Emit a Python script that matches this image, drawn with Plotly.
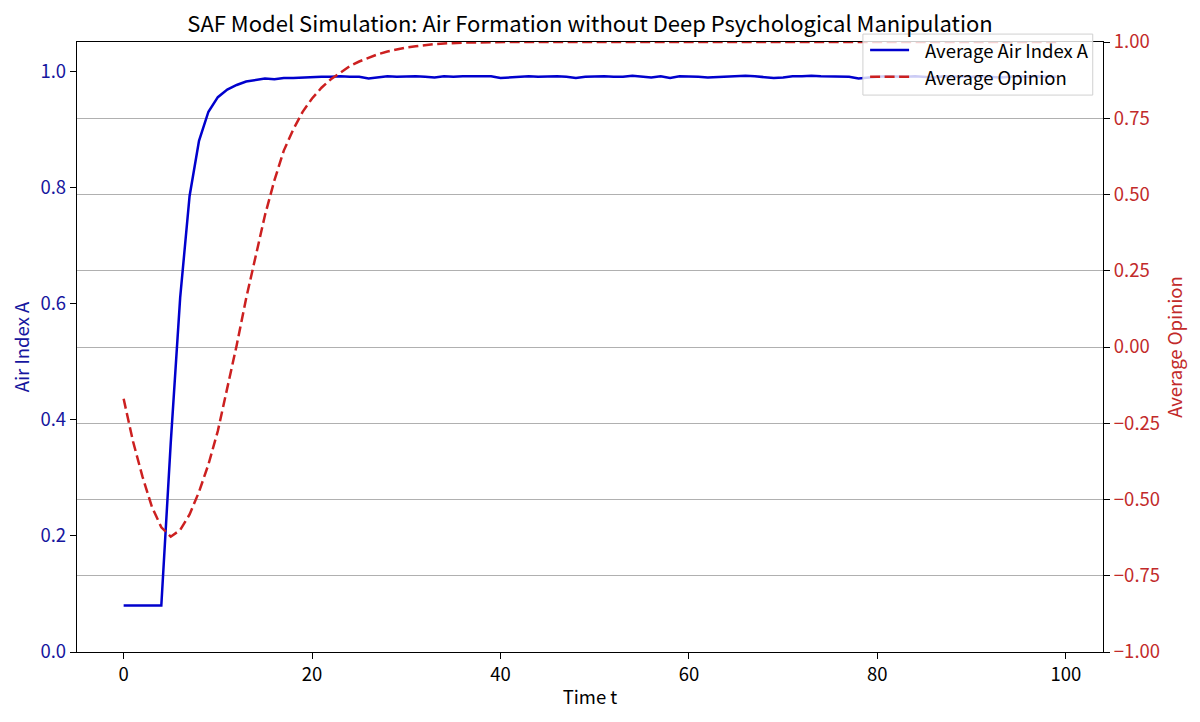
import plotly.graph_objects as go

# time steps
time_t = list(range(100))

# average air index A (left axis)
air_index = [
    0.080, 0.080, 0.080, 0.080, 0.080, 0.360, 0.610, 0.785, 0.880, 0.930,
    0.955, 0.968, 0.976, 0.982, 0.985, 0.987, 0.986, 0.988, 0.988, 0.989,
    0.990, 0.990, 0.990, 0.991, 0.990, 0.990, 0.987, 0.989, 0.991, 0.990,
    0.991, 0.991, 0.990, 0.989, 0.991, 0.990, 0.991, 0.991, 0.990, 0.991,
    0.988, 0.989, 0.991, 0.991, 0.990, 0.991, 0.991, 0.990, 0.988, 0.990,
    0.991, 0.991, 0.990, 0.990, 0.992, 0.991, 0.989, 0.991, 0.988, 0.991,
    0.991, 0.990, 0.989, 0.990, 0.990, 0.991, 0.992, 0.991, 0.990, 0.988,
    0.989, 0.991, 0.991, 0.992, 0.991, 0.991, 0.990, 0.990, 0.987, 0.989,
    0.990, 0.991, 0.990, 0.990, 0.991, 0.990, 0.989, 0.991, 0.990, 0.991,
    0.990, 0.991, 0.990, 0.989, 0.990, 0.991, 0.990, 0.991, 0.990, 0.990,
]

# average opinion (right axis)
avg_opinion = [
    -0.170, -0.310, -0.425, -0.524, -0.591, -0.622, -0.600, -0.549, -0.475, -0.385,
    -0.275, -0.140, 0.006, 0.159, 0.301, 0.432, 0.546, 0.644, 0.713, 0.771,
    0.815, 0.850, 0.878, 0.901, 0.921, 0.936, 0.949, 0.960, 0.969, 0.976,
    0.982, 0.986, 0.990, 0.993, 0.995, 0.997, 0.998, 0.998, 0.999, 0.999,
    1.000, 1.000, 1.000, 1.000, 1.000, 1.000, 1.000, 1.000, 1.000, 1.000,
    1.000, 1.000, 1.000, 1.000, 1.000, 1.000, 1.000, 1.000, 1.000, 1.000,
    1.000, 1.000, 1.000, 1.000, 1.000, 1.000, 1.000, 1.000, 1.000, 1.000,
    1.000, 1.000, 1.000, 1.000, 1.000, 1.000, 1.000, 1.000, 1.000, 1.000,
    1.000, 1.000, 1.000, 1.000, 1.000, 1.000, 1.000, 1.000, 1.000, 1.000,
    1.000, 1.000, 1.000, 1.000, 1.000, 1.000, 1.000, 1.000, 1.000, 1.000,
]

x_ticks = [0, 20, 40, 60, 80, 100]
left_ticks = [0.0, 0.2, 0.4, 0.6, 0.8, 1.0]
right_ticks = [-1.0, -0.75, -0.5, -0.25, 0.0, 0.25, 0.5, 0.75, 1.0]

FONT = "Noto Sans CJK SC"
FS = 18.5
BLUE = "#0000cd"
BLUE_TXT = "#16169e"
RED = "#cc2020"
RED_TXT = "#c22a2a"
RED_DASH = "10px,4.5px"

# page body has an 8px margin, so the figure is a bit smaller than the window
W, H = 1192, 714

fig = go.Figure()

fig.add_trace(go.Scatter(
    x=time_t, y=air_index, mode="lines", name="Average Air Index A",
    line=dict(color=BLUE, width=2.5),
    yaxis="y",
))
fig.add_trace(go.Scatter(
    x=time_t, y=avg_opinion, mode="lines", name="Average Opinion",
    line=dict(color=RED, width=2.5, dash=RED_DASH),
    yaxis="y2",
))

# legend box drawn by hand (matplotlib style, semi transparent)
names = [tr.name for tr in fig.data]
colors = [BLUE, RED]
dashes = ["solid", RED_DASH]
rows_y = [0.987, 0.943]

shapes = [dict(
    type="rect", xref="paper", yref="paper",
    x0=0.766, x1=0.990, y0=0.913, y1=1.013,
    fillcolor="rgba(255,255,255,0.8)",
    line=dict(color="#d0d0d0", width=1),
    layer="above",
)]
annotations = []
for name, col, dsh, ry in zip(names, colors, dashes, rows_y):
    shapes.append(dict(
        type="line", xref="paper", yref="paper",
        x0=0.773, x1=0.811, y0=ry, y1=ry,
        line=dict(color=col, width=2.5, dash=dsh),
        layer="above",
    ))
    annotations.append(dict(
        xref="paper", yref="paper", x=0.8246, y=ry,
        xanchor="left", yanchor="middle", showarrow=False,
        text=name, font=dict(family=FONT, size=FS, color="black"),
    ))

fig.update_layout(
    width=W, height=H,
    margin=dict(l=69, r=97, t=34, b=70, autoexpand=False),
    paper_bgcolor="white", plot_bgcolor="white",
    font=dict(family=FONT, size=FS, color="black"),
    showlegend=False,
    shapes=shapes,
    annotations=annotations,
    title=dict(
        text="SAF Model Simulation: Air Formation without Deep Psychological Manipulation",
        font=dict(family=FONT, size=22, color="black"),
        x=0.5, xref="paper", xanchor="center",
        y=1 - 16.5 / H, yref="container", yanchor="middle",
    ),
    xaxis=dict(
        range=[-4.95, 103.95], tickvals=x_ticks,
        showgrid=False, zeroline=False,
        showline=True, mirror=True, linecolor="black", linewidth=1.3,
        ticks="outside", ticklen=6, tickwidth=1.3, tickcolor="black",
        title=dict(text="Time t", standoff=5, font=dict(size=FS)),
        automargin=False,
    ),
    yaxis=dict(
        range=[0, 1.05], tickvals=left_ticks, tickformat=".1f",
        showgrid=False, zeroline=False,
        showline=True, linecolor="black", linewidth=1.3,
        ticks="outside", ticklen=6, tickwidth=1.3, tickcolor="black",
        tickfont=dict(color=BLUE_TXT),
        title=dict(text="Air Index A", standoff=9, font=dict(color=BLUE_TXT, size=FS)),
        automargin=False,
    ),
    yaxis2=dict(
        range=[-1, 1], tickvals=right_ticks, tickformat=".2f",
        overlaying="y", side="right",
        showgrid=True, gridcolor="#b0b0b0", gridwidth=1.2, zeroline=False,
        showline=True, linecolor="black", linewidth=1.3,
        ticks="outside", ticklen=6, tickwidth=1.3, tickcolor="black",
        tickfont=dict(color=RED_TXT),
        title=dict(text="Average Opinion", standoff=9, font=dict(color=RED_TXT, size=FS)),
        automargin=False,
    ),
)

fig.write_html("out.html")
